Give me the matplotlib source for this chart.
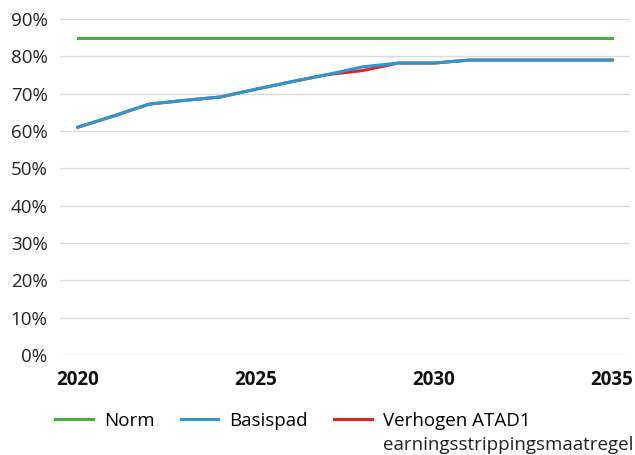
import numpy as np
import matplotlib.pyplot as plt

plt.rcParams['font.family'] = ['Open Sans', 'DejaVu Sans']

jaren = list(range(2020, 2036))
norm = [85] * 16
basispad = [61, 64, 67.2, 68.2, 69.1, 71.2, 73.2, 75.1, 77.2, 78.2, 78.2, 79, 79, 79, 79, 79]
verhogen = [61, 64, 67.2, 68.2, 69.1, 71.2, 73.2, 75.1, 76.2, 78.2, 78.2, 79, 79, 79, 79, 79]
y_ticks = [0, 10, 20, 30, 40, 50, 60, 70, 80, 90]
x_ticks = [2020, 2025, 2030, 2035]

W, H = 635, 455
fig = plt.figure(figsize=(W / 100, H / 100), dpi=100)
ax = fig.add_axes([60 / W, 1 - 355 / H, 570 / W, 336 / H])

ax.plot(jaren, norm, color='#4bac3f', lw=2.2, label='Norm')
ax.plot(jaren, verhogen, color='#e3241b', lw=2.2, label='Verhogen ATAD1')
ax.plot(jaren, basispad, color='#2b98d6', lw=2.2, label='Basispad')

ax.set_xlim(2019.5, 2035.5)
ax.set_ylim(0, 90)
ax.set_yticks(y_ticks)
ax.set_yticklabels([f'{v}%' for v in y_ticks], fontsize=13.5, color='#222222')
ax.set_xticks(x_ticks)
ax.set_xticklabels([str(x) for x in x_ticks], fontsize=13.5, fontweight='bold', color='#111111')
ax.tick_params(axis='both', length=0)
ax.tick_params(axis='y', pad=9)
ax.tick_params(axis='x', pad=11)
ax.grid(axis='y', color='#d9d9d9', lw=1)
ax.set_axisbelow(True)
for s in ax.spines.values():
    s.set_visible(False)

h, l = ax.get_legend_handles_labels()
order = [0, 2, 1]
leg = fig.legend([h[i] for i in order], [l[i] for i in order], loc='upper left',
                 bbox_to_anchor=(55 / W, 1 - 412 / H), ncol=3, frameon=False,
                 fontsize=13.5, handlelength=2.0, columnspacing=1.4, handletextpad=0.6,
                 borderaxespad=0, borderpad=0)

# tweede regel van het label onder 'Verhogen ATAD1'
fig.canvas.draw()
bb = leg.get_texts()[2].get_window_extent()
fig.text(bb.x0 / W, (bb.y0 - 24) / H, 'earningsstrippingsmaatregel', fontsize=13.5,
         color='#222222', va='bottom', ha='left')

fig.savefig('out.png', dpi=100)
